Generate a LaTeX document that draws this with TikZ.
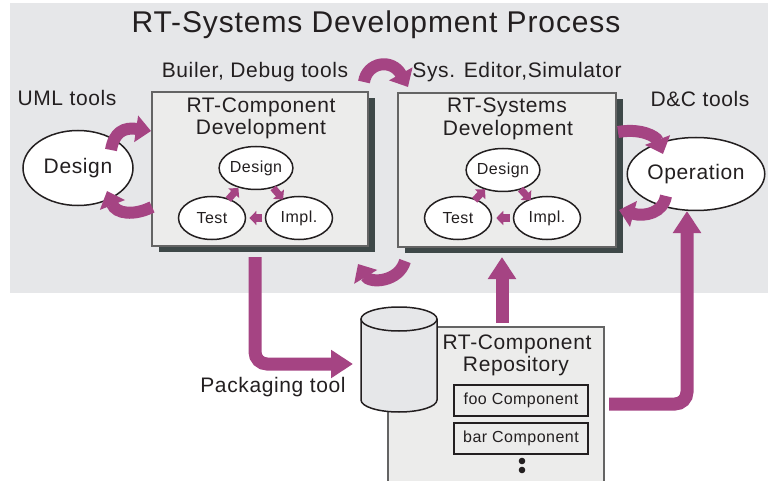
\documentclass[tikz,border=0pt]{standalone}
\usepackage{fontspec}
\setmainfont{Liberation Sans}[LetterSpace=3]
\usetikzlibrary{arrows.meta,calc,shapes.geometric,shadows}
\definecolor{pur}{RGB}{165,68,131}
\definecolor{bggray}{RGB}{230,231,233}
\definecolor{boxfill}{RGB}{236,236,235}
\definecolor{shadowc}{RGB}{62,72,72}
\definecolor{bordc}{RGB}{100,100,100}
\definecolor{txt}{RGB}{35,31,32}
\newcommand{\myfs}[1]{\fontsize{#1}{#1}\selectfont}
\begin{document}
\begin{tikzpicture}[x=1pt,y=-1pt,
  every node/.style={text=txt},
  lbl/.style={anchor=base, inner sep=0pt, font=\myfs{21}},
  procbox/.style={draw=bordc, line width=1.5pt, fill=boxfill, inner sep=0pt,
     minimum height=154pt,
     drop shadow={shadow xshift=7pt, shadow yshift=-6pt, fill=shadowc, opacity=1}},
  bigell/.style={ellipse, draw=txt, line width=1.5pt, fill=white, inner sep=0pt,
     minimum width=110pt, minimum height=75pt, font=\myfs{21}},
  smell/.style={ellipse, draw=txt, line width=1.5pt, fill=white, inner sep=0pt,
     minimum width=67pt, minimum height=43pt, font=\myfs{16}},
  compbox/.style={draw=txt, line width=1.5pt, fill=boxfill, inner sep=0pt,
     minimum width=134pt, minimum height=31pt, font=\myfs{16}},
  bigarrow/.style={draw=pur, line width=13pt, -{Triangle[width=27pt,length=22pt]}},
  curlarrow/.style={draw=pur, line width=12pt, -{Triangle[width=26pt,length=15pt]}},
  smallarrow/.style={draw=pur, line width=7pt, -{Triangle[width=14pt,length=7pt]}}
]
\useasboundingbox (0,0) rectangle (768,481);
\clip (0,0) rectangle (768,481);
% background
\fill[bggray] (10,3) rectangle (768,293);
% title
\node[anchor=base, inner sep=0pt, font=\myfs{30}] (title) at (376,33) {RT-Systems Development Process};
% labels
\node[lbl] (uml) at (67,106) {UML tools};
\node[lbl] (bld) at (255,78) {Builer, Debug tools};
\node[lbl] (sys) at (517,78) {Sys. Editor,Simulator};
\node[lbl] (dc) at (700,107) {D\&C tools};
\node[lbl] (pkg) at (273,392) {Packaging tool};
% process boxes
\node[procbox, minimum width=216pt] (lbox) at (260,169) {};
\node[procbox, minimum width=218pt] (rbox) at (507,170) {};
\node[lbl] (lt1) at (261,113) {RT-Component};
\node[lbl] (lt2) at (261,135) {Development};
\node[lbl] (rt1) at (507,113) {RT-Systems};
\node[lbl] (rt2) at (508,136) {Development};
% inner ellipses
\node[smell] (ld) at (256,168) {Design};
\node[smell] (lt) at (212,218) {Test};
\node[smell] (li) at (299,218) {Impl.};
\node[smell] (rd) at (503,170) {Design};
\node[smell] (rt) at (458,218) {Test};
\node[smell] (ri) at (547,218) {Impl.};
\draw[smallarrow] ($(ld)!0.40!(li)$) -- ($(ld)!0.63!(li)$);
\draw[smallarrow] ($(li)!0.42!(lt)$) -- ($(li)!0.57!(lt)$);
\draw[smallarrow] ($(lt)!0.37!(ld)$) -- ($(lt)!0.60!(ld)$);
\draw[smallarrow] ($(rd)!0.40!(ri)$) -- ($(rd)!0.63!(ri)$);
\draw[smallarrow] ($(ri)!0.42!(rt)$) -- ($(ri)!0.57!(rt)$);
\draw[smallarrow] ($(rt)!0.37!(rd)$) -- ($(rt)!0.60!(rd)$);
% big ellipses
\node[bigell] (design) at (78,168) {Design};
\node[bigell, minimum height=73pt] (oper) at (696,174) {Operation};
% repository
\node[draw=bordc, line width=1.5pt, fill=boxfill, anchor=north west, inner sep=0pt,
  minimum width=216pt, minimum height=200pt] (repo) at (387,326) {};
\node[lbl] (rp1) at (517,349) {RT-Component};
\node[lbl] (rp2) at (516,371) {Repository};
\node[compbox] (foo) at (521,400.5) {foo Component};
\node[compbox] (bar) at (521,438.5) {bar Component};
\fill[txt] (522,461) circle (3.3);
\fill[txt] (522,470) circle (3.3);
% cylinder
\draw[txt, line width=1.5pt, fill=bggray] (361,319) -- (361,400)
  arc[start angle=180, end angle=0, x radius=38, y radius=12] -- (437,319);
\draw[txt, line width=1.5pt, fill=bggray] (399,319) ellipse [x radius=38, y radius=12];
\coordinate (cyl) at (399,360);
% big arrows
\coordinate (a1s) at (255,257);
\coordinate (a1e) at (353,364);
\draw[bigarrow, rounded corners=12pt] (a1s) |- (a1e);
\coordinate (a2s) at (502,323);
\coordinate (a2e) at (502,257);
\draw[bigarrow] (a2s) -- (a2e);
\coordinate (a3s) at (609,404);
\coordinate (a3e) at (687,211);
\draw[bigarrow, rounded corners=12pt] (a3s) -| (a3e);
% curled arrows
\coordinate (c1s) at (111,150); \coordinate (c1e) at (151,131);
\draw[curlarrow] (c1s) .. controls (114,132) and (124,127) .. (c1e);
\coordinate (c2s) at (152,207); \coordinate (c2e) at (107,191);
\draw[curlarrow] (c2s) .. controls (134,216) and (116,214) .. (c2e);
\coordinate (c3s) at (364,82); \coordinate (c3e) at (408,87);
\draw[curlarrow] (c3s) .. controls (367,62) and (392,58) .. (c3e);
\coordinate (c4s) at (405,261); \coordinate (c4e) at (358,264);
\draw[curlarrow] (c4s) .. controls (399,282) and (370,284) .. (c4e);
\coordinate (c5s) at (618,132); \coordinate (c5e) at (663,154);
\draw[curlarrow] (c5s) .. controls (640,128) and (656,136) .. (c5e);
\coordinate (c6s) at (666,196); \coordinate (c6e) at (619,210);
\draw[curlarrow] (c6s) .. controls (663,213) and (645,217) .. (c6e);
\end{tikzpicture}
\end{document}
